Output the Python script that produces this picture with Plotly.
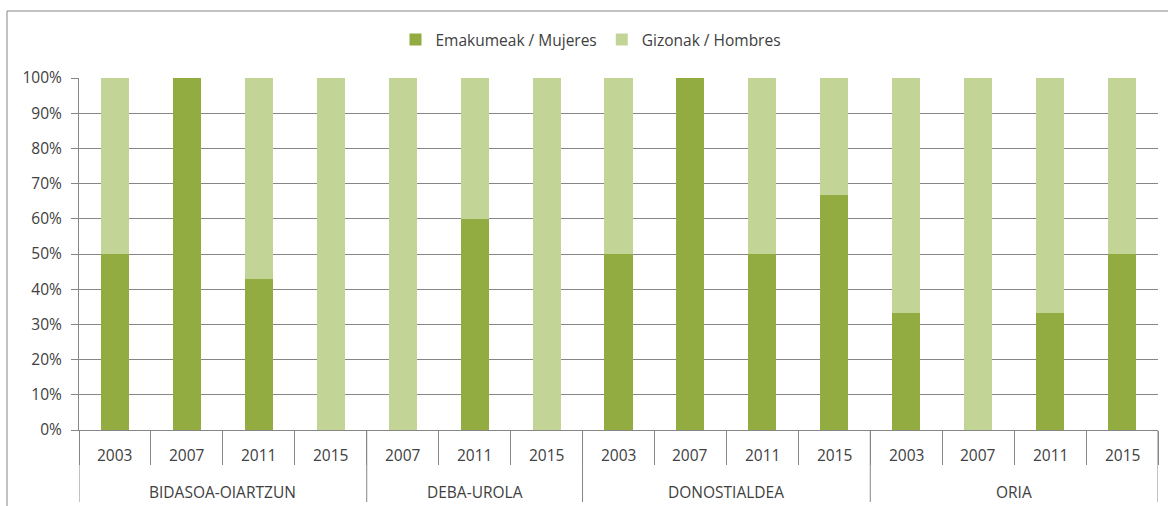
import plotly.graph_objects as go

groups = ["BIDASOA-OIARTZUN"] * 4 + ["DEBA-UROLA"] * 3 + ["DONOSTIALDEA"] * 4 + ["ORIA"] * 4
years = ["2003", "2007", "2011", "2015", "2007", "2011", "2015",
         "2003", "2007", "2011", "2015", "2003", "2007", "2011", "2015"]
mujeres = [50, 100, 42.9, 0, 0, 60, 0, 50, 100, 50, 66.7, 33.3, 0, 33.3, 50]
hombres = [100 - v for v in mujeres]

series_names = ["Emakumeak / Mujeres", "Gizonak / Hombres"]
colors = ["#93AC41", "#C3D596"]
font = "Open Sans, Liberation Sans, sans-serif"
txt = "#404040"
grid = "#868686"

keys = [f"{g}|{y}" for g, y in zip(groups, years)]

fig = go.Figure()
fig.add_trace(go.Bar(x=keys, y=mujeres, name=series_names[0],
                     marker=dict(color=colors[0], line=dict(width=0)), width=0.39))
fig.add_trace(go.Bar(x=keys, y=hombres, name=series_names[1],
                     marker=dict(color=colors[1], line=dict(width=0)), width=0.39))

W, H = 1168, 506
L, R, T, B = 79, 10, 78, 76
pw, ph = W - L - R, H - T - B

def px(x):
    return (x - L) / pw

def py(y):
    return (H - B - y) / ph

annotations = []
shapes = [dict(type="rect", xref="paper", yref="paper",
               x0=px(7), x1=px(1180), y0=py(11), y1=py(520),
               line=dict(color=grid, width=1), layer="below")]

# year labels
for i, y in enumerate(years):
    annotations.append(dict(x=i, y=py(455), xref="x", yref="paper", text=y,
                            showarrow=False, xanchor="center", yanchor="middle",
                            font=dict(size=15.5, color=txt)))

# group labels and dividers
uniq = []
for g in groups:
    if g not in uniq:
        uniq.append(g)
for g in uniq:
    idx = [i for i, gg in enumerate(groups) if gg == g]
    c = (idx[0] + idx[-1]) / 2
    annotations.append(dict(x=c, y=py(492), xref="x", yref="paper", text=g,
                            showarrow=False, xanchor="center", yanchor="middle",
                            font=dict(size=15.5, color=txt)))
    shapes.append(dict(type="line", xref="x", yref="paper",
                       x0=idx[0] - 0.5, x1=idx[0] - 0.5, y0=0, y1=py(502),
                       line=dict(color=grid, width=1)))
shapes.append(dict(type="line", xref="x", yref="paper",
                   x0=len(groups) - 0.5, x1=len(groups) - 0.5, y0=0, y1=py(502),
                   line=dict(color=grid, width=1)))

fig.update_layout(
    width=W, height=H,
    barmode="stack",
    bargap=0.61,
    margin=dict(l=L, r=R, t=T, b=B),
    paper_bgcolor="white",
    plot_bgcolor="white",
    font=dict(family=font, size=15.5, color=txt),
    legend=dict(orientation="h", x=px(591), xanchor="center", y=py(40), yanchor="middle",
                font=dict(size=15.5, color=txt), itemwidth=30, traceorder="normal"),
    xaxis=dict(type="category", range=[-0.5, len(groups) - 0.5],
               showline=True, linecolor=grid, linewidth=1,
               ticks="outside", tickson="boundaries", ticklen=34, tickcolor=grid,
               showticklabels=False, showgrid=False, automargin=False),
    yaxis=dict(range=[0, 100], tickvals=list(range(0, 101, 10)),
               ticktext=[f"{v}%" for v in range(0, 101, 10)],
               showgrid=True, gridcolor=grid, gridwidth=1,
               showline=True, linecolor=grid, linewidth=1,
               ticks="outside", ticklen=7, tickcolor=grid, ticklabelstandoff=6,
               tickfont=dict(size=15.5, color=txt), zeroline=False, automargin=False),
    annotations=annotations,
    shapes=shapes,
)

fig.write_html("out.html", config={"displayModeBar": False},
               post_script="document.body.style.margin='0';document.body.style.overflow='hidden';")
